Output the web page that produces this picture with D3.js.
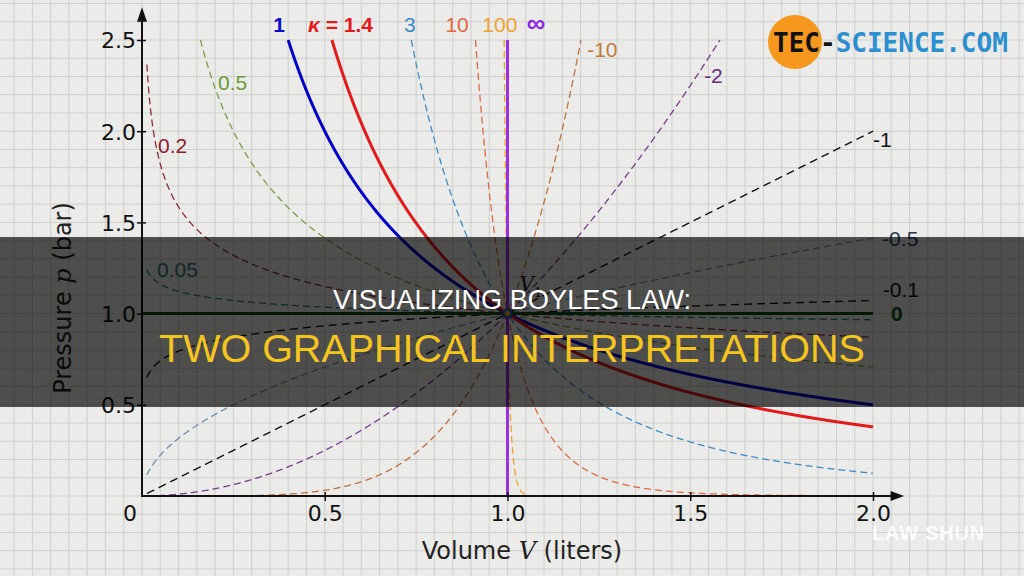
<!DOCTYPE html>
<html><head><meta charset="utf-8">
<script src="https://cdn.jsdelivr.net/npm/d3@7"></script>
<style>html,body{margin:0;padding:0;background:#ebebe9;} svg{display:block}</style>
</head><body>
<svg id="c" width="1024" height="576"></svg>
<script>
// ---------- data ----------
const curveLabels    = ["0.2","0.5","0.05","-0.1","-0.5","-1","-2","-10","3","10","100","0","1","κ = 1.4","∞"];
// exponent n of p = V^(-n) as drawn (the curve labelled "-10" is drawn like V^5)
const curveExponents = [0.2, 0.5, 0.05, -0.1, -0.5, -1, -2, -5, 3, 10, 100, 0, 1, 1.4, Infinity];
const xTickValues = [0.5, 1.0, 1.5, 2.0];
const yTickValues = [0.5, 1.0, 1.5, 2.0, 2.5];
const titleLines = ["VISUALIZING BOYLES LAW:", "TWO GRAPHICAL INTERPRETATIONS"];
const xAxisTitle = ["Volume ", "V", " (liters)"];
const yAxisTitle = ["Pressure ", "p", " (bar)"];
const refPoint = [1, 1];
const vRange = [0.0135, 2];
const pMax = 2.5;

// ---------- styles / layout ----------
const curveStyle = {
  "0.2":    {c:"#8e2a3a", lc:"#8b1d2e", dash:"7,4", w:1.3, pos:[0.044,1.88,"start"]},
  "0.5":    {c:"#7a9e45", lc:"#6a9a35", dash:"7,4", w:1.3, pos:[0.208,2.226,"start"]},
  "0.05":   {c:"#2a8080", lc:"#2a7a7a", dash:"7,4", w:1.3, pos:[0.041,1.20,"start"]},
  "-0.1":   {c:"#111111", lc:"#111111", dash:"8,5", w:1.4, pos:[2.027,1.091,"start"]},
  "-0.5":   {c:"#6a90b4", lc:"#24385a", dash:"7,4", w:1.3, pos:[2.025,1.371,"start"]},
  "-1":     {c:"#111111", lc:"#111111", dash:"8,5", w:1.4, pos:[2.0,1.913,"start"]},
  "-2":     {c:"#7a3a8e", lc:"#6a2a7a", dash:"7,4", w:1.3, pos:[1.538,2.264,"start"]},
  "-10":    {c:"#c0703a", lc:"#c27a3a", dash:"7,4", w:1.3, pos:[1.218,2.407,"start"]},
  "3":      {c:"#3a8ec8", lc:"#3a8ec8", dash:"7,4", w:1.3, pos:[0.733,2.544,"middle"]},
  "10":     {c:"#e2693e", lc:"#e2693e", dash:"7,4", w:1.3, pos:[0.862,2.544,"middle"]},
  "100":    {c:"#f0a22e", lc:"#f0a22e", dash:"7,4", w:1.3, pos:[0.979,2.544,"middle"]},
  "0":      {c:"#0d4d0d", lc:"#0d5a0d", dash:null,  w:3,   pos:[2.049,0.959,"start"], bold:true},
  "1":      {c:"#0000c8", lc:"#0a0ad0", dash:null,  w:3,   pos:[0.375,2.544,"middle"], bold:true},
  "κ = 1.4":{c:"#e41a1a", lc:"#e41a1a", dash:null,  w:3,   pos:[0.543,2.544,"middle"], bold:true},
  "∞":      {c:"#9b30e0", lc:"#8a2be2", dash:null,  w:3,   pos:[1.078,2.544,"middle"], bold:true, size:26}
};

const W = 1024, H = 576;
const svg = d3.select("#c");
const x = d3.scaleLinear().domain([0, 2]).range([142, 873]);
const y = d3.scaleLinear().domain([0, 2.5]).range([496, 40]);

// paper background + grid
svg.append("rect").attr("width", W).attr("height", H).attr("fill", "#ebebe9");
const grid = svg.append("g").attr("stroke", "#cfcfcd").attr("stroke-width", 1);
grid.selectAll("line.v").data(d3.range(-8, 50).map(i => i * 0.05)).join("line")
  .attr("x1", d => x(d)).attr("x2", d => x(d)).attr("y1", 0).attr("y2", H);
grid.selectAll("line.h").data(d3.range(-6, 29).map(i => i * 0.1)).join("line")
  .attr("y1", d => y(d)).attr("y2", d => y(d)).attr("x1", 0).attr("x2", W);

// curves p = V^(-n)
function curvePoints(n) {
  if (n === Infinity) return [[1, 0], [1, pMax]];
  if (n === 0) return [[0, 1], [2, 1]];
  let v0 = vRange[0], v1 = vRange[1];
  if (n > 0) v0 = Math.max(v0, Math.pow(pMax, -1 / n));
  else v1 = Math.min(v1, Math.pow(pMax, -1 / n));
  const N = 3000;
  return d3.range(N + 1).map(i => { const v = v0 + (v1 - v0) * i / N; return [v, Math.pow(v, -n)]; });
}
const line = d3.line().x(d => x(d[0])).y(d => y(d[1]));
const curves = curveLabels.map((lab, i) => ({lab, n: curveExponents[i], pts: curvePoints(curveExponents[i])}));
const gc = svg.append("g").attr("fill", "none");
gc.selectAll("path").data(curves).join("path")
  .attr("d", d => line(d.pts))
  .attr("stroke", d => curveStyle[d.lab].c)
  .attr("stroke-width", d => curveStyle[d.lab].w)
  .attr("stroke-dasharray", d => curveStyle[d.lab].dash);

// reference point and V1 label
svg.append("circle").attr("cx", x(refPoint[0])).attr("cy", y(refPoint[1])).attr("r", 4)
  .attr("fill", "#f0a030").attr("stroke", "#2060a0").attr("stroke-width", 2.5);
const v1 = svg.append("text").attr("x", x(1.033)).attr("y", y(1.125))
  .attr("font-family", "DejaVu Serif").attr("font-style", "italic").attr("font-size", 20).attr("fill", "#222");
v1.append("tspan").text("V");
v1.append("tspan").attr("font-size", 13).attr("font-style", "normal").attr("dy", 6).text("1");

// curve labels
const gl = svg.append("g").attr("font-family", "Liberation Sans, Arial, sans-serif").attr("font-size", 21);
curves.forEach(d => {
  const s = curveStyle[d.lab];
  const t = gl.append("text").attr("x", x(s.pos[0])).attr("y", y(s.pos[1]))
    .attr("text-anchor", s.pos[2]).attr("fill", s.lc)
    .attr("font-weight", s.bold ? "bold" : "normal");
  if (s.size) t.attr("font-size", s.size);
  if (d.lab.startsWith("κ")) {
    t.append("tspan").attr("font-style", "italic").text("κ");
    t.append("tspan").text(d.lab.slice(1));
  } else t.text(d.lab);
});

// axes
const ax = svg.append("g");
const gy = ax.append("g").attr("transform", `translate(${x(0)},0)`)
  .call(d3.axisLeft(y).tickValues(yTickValues).tickFormat(d3.format(".1f")).tickSizeInner(5).tickSizeOuter(0));
gy.select(".domain").remove();
gy.attr("font-family", "DejaVu Sans").attr("font-size", 22);
gy.selectAll(".tick line").attr("x1", 4).attr("x2", -5).attr("stroke", "#111").attr("stroke-width", 1.5);
gy.selectAll(".tick text").attr("x", -6).attr("dy", "0.36em").attr("fill", "#111");

const gx = ax.append("g").attr("transform", `translate(0,${y(0)})`)
  .call(d3.axisBottom(x).tickValues(xTickValues).tickFormat(d3.format(".1f")).tickSizeInner(5).tickSizeOuter(0));
gx.select(".domain").remove();
gx.attr("font-family", "DejaVu Sans").attr("font-size", 22);
gx.selectAll(".tick line").attr("y1", -4).attr("y2", 5).attr("stroke", "#111").attr("stroke-width", 1.5);
gx.selectAll(".tick text").attr("y", 25).attr("dy", 0).attr("fill", "#111");
ax.append("text").attr("x", x(0) - 12).attr("y", y(0) + 25).attr("text-anchor", "middle")
  .attr("font-family", "DejaVu Sans").attr("font-size", 22).attr("fill", "#111").text("0");

ax.append("line").attr("x1", x(0)).attr("x2", x(0)).attr("y1", y(0) + 1).attr("y2", y(2.62))
  .attr("stroke", "#111").attr("stroke-width", 2);
ax.append("path").attr("fill", "#111")
  .attr("d", `M${x(0)},${y(2.68)} L${x(0) - 5},${y(2.6)} L${x(0) + 5},${y(2.6)} Z`);
ax.append("line").attr("x1", x(0) - 1).attr("x2", x(2.05)).attr("y1", y(0)).attr("y2", y(0))
  .attr("stroke", "#111").attr("stroke-width", 2);
ax.append("path").attr("fill", "#111")
  .attr("d", `M${x(2.085)},${y(0)} L${x(2.048)},${y(0) - 5} L${x(2.048)},${y(0) + 5} Z`);

// axis titles
const xt = ax.append("text").attr("x", 522).attr("y", 559).attr("text-anchor", "middle")
  .attr("font-family", "DejaVu Sans").attr("font-size", 24).attr("fill", "#222");
xt.append("tspan").text(xAxisTitle[0]);
xt.append("tspan").attr("font-family", "DejaVu Serif").attr("font-style", "italic").text(xAxisTitle[1]);
xt.append("tspan").text(xAxisTitle[2]);
const yt = ax.append("text").attr("transform", "translate(71,298) rotate(-90)").attr("text-anchor", "middle")
  .attr("font-family", "DejaVu Sans").attr("font-size", 24).attr("fill", "#222");
yt.append("tspan").text(yAxisTitle[0]);
yt.append("tspan").attr("font-family", "DejaVu Serif").attr("font-style", "italic").text(yAxisTitle[1]);
yt.append("tspan").text(yAxisTitle[2]);

// logo
svg.append("circle").attr("cx", 795).attr("cy", 42).attr("r", 27).attr("fill", "#f6971e");
const logo = svg.append("text").attr("x", 773).attr("y", 52)
  .attr("font-family", "DejaVu Sans Mono").attr("font-weight", "bold").attr("font-size", 26);
logo.append("tspan").attr("fill", "#111").text("TEC-");
logo.append("tspan").attr("fill", "#2b8fd0").text("SCIENCE.COM");

// banner
svg.append("rect").attr("x", 0).attr("y", 237).attr("width", W).attr("height", 170)
  .attr("fill", "#000").attr("fill-opacity", 0.67);
svg.append("text").attr("x", 512).attr("y", 309).attr("text-anchor", "middle")
  .attr("font-family", "Liberation Sans, Arial, sans-serif").attr("font-size", 27.2).attr("fill", "#ffffff")
  .text(titleLines[0]);
svg.append("text").attr("x", 512).attr("y", 362).attr("text-anchor", "middle")
  .attr("font-family", "Liberation Sans, Arial, sans-serif").attr("font-size", 39.5).attr("fill", "#f4c41f")
  .text(titleLines[1]);

// watermark
svg.append("text").attr("x", 872).attr("y", 540)
  .attr("font-family", "Liberation Sans, Arial, sans-serif").attr("font-weight", "bold")
  .attr("font-size", 20).attr("letter-spacing", 0.8).attr("fill", "#ffffff").attr("fill-opacity", 0.9)
  .text("LAW SHUN");
</script>
</body></html>
